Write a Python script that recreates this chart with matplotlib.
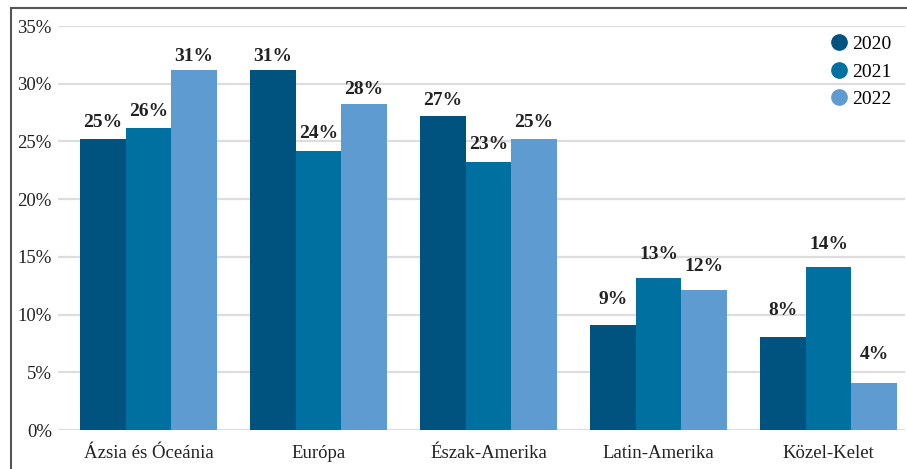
import numpy as np
import matplotlib.pyplot as plt
from matplotlib.patches import Rectangle
from matplotlib.lines import Line2D

plt.rcParams['font.family'] = ['Liberation Serif', 'DejaVu Serif']

regions = ['Ázsia és Óceánia', 'Európa', 'Észak-Amerika', 'Latin-Amerika', 'Közel-Kelet']
years = ['2020', '2021', '2022']
v2020 = [25.2, 31.2, 27.2, 9.1, 8.1]
v2021 = [26.2, 24.2, 23.2, 13.2, 14.1]
v2022 = [31.2, 28.2, 25.2, 12.1, 4.1]
labels2020 = ['25%', '31%', '27%', '9%', '8%']
labels2021 = ['26%', '24%', '23%', '13%', '14%']
labels2022 = ['31%', '28%', '25%', '12%', '4%']

colors = ['#00527f', '#0070a0', '#5e9bd0']

fig = plt.figure(figsize=(9.07, 4.69), dpi=100)
ax = fig.add_axes([58/907, 39/469, 847/907, 404/469])

x = np.arange(len(regions))
w = 0.268
series = [v2020, v2021, v2022]
lbls = [labels2020, labels2021, labels2022]
for i, (vals, lb) in enumerate(zip(series, lbls)):
    pos = x + (i - 1) * w
    ax.bar(pos, vals, width=w, color=colors[i], zorder=3)
    for p, v, t in zip(pos, vals, lb):
        # labels sit further above the shorter bars in the original
        off = max(2.5, (21.5 - 0.52 * v) * 0.72)
        ax.annotate(t, (p, v), xytext=(0, off), textcoords='offset points',
                    ha='center', va='bottom', fontsize=14, fontweight='bold',
                    color='#222222')

ax.set_xlim(-0.532, 4.45)
ax.set_ylim(0, 35)
ax.set_yticks(np.arange(0, 36, 5))
ax.set_yticklabels([f'{t}%' for t in range(0, 36, 5)])
ax.set_xticks(x)
ax.set_xticklabels(regions)
ax.tick_params(axis='both', length=0, labelsize=13.5, colors='#222222')
ax.tick_params(axis='x', pad=11)
ax.tick_params(axis='y', pad=4.5)
ax.grid(axis='y', color='#dddddd', linewidth=1.6, zorder=0)
for s in ax.spines.values():
    s.set_visible(False)

handles = [Line2D([], [], marker='o', linestyle='none', markersize=11,
                  markerfacecolor=c, markeredgecolor=c) for c in colors]
ax.legend(handles, years, loc='upper right', frameon=False, fontsize=14,
          handlelength=0.8, handletextpad=0.25, labelspacing=0.5,
          borderaxespad=0.3, bbox_to_anchor=(1.0, 1.01))

fig.patches.append(Rectangle((11/907, -0.1), 1.2, (469 - 8)/469 + 0.1,
                             transform=fig.transFigure, fill=False,
                             edgecolor='#555555', linewidth=1.5))

fig.savefig('out.png', dpi=100)
